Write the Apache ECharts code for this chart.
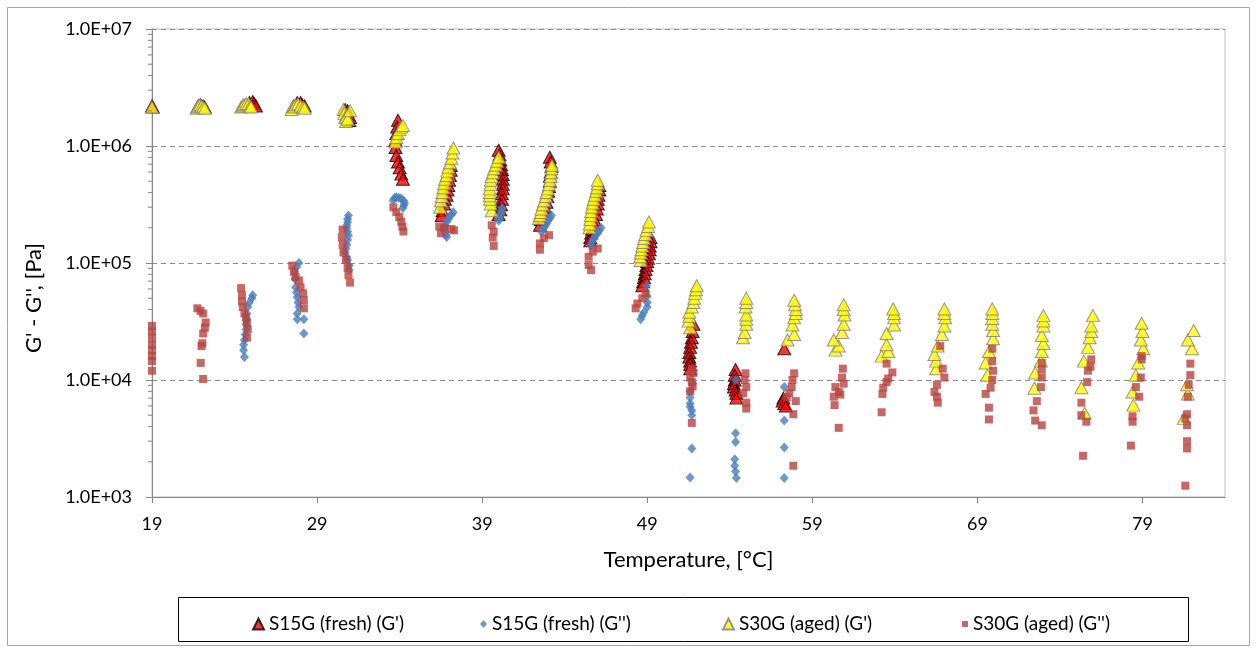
<!DOCTYPE html>
<html>
<head>
<meta charset="utf-8">
<script src="https://cdn.jsdelivr.net/npm/echarts@6/dist/echarts.min.js"></script>
<style>
html,body{margin:0;padding:0;background:#fff;}
#chart{width:1257px;height:649px;}
</style>
</head>
<body>
<div id="chart"></div>
<script>
// ---- Data (temperature [°C], modulus [Pa]) ----
const seriesNames = ["S15G (fresh) (G')", "S15G (fresh) (G'')", "S30G (aged) (G')", "S30G (aged) (G'')"];
const xTicks = [19, 29, 39, 49, 59, 69, 79];
const yTicks = [1e3, 1e4, 1e5, 1e6, 1e7];

const freshGp = [
  [19.0,2.2e6],[19.05,2.15e6],
  [21.8,2.2e6],[21.95,2.25e6],[22.1,2.2e6],[22.2,2.15e6],
  [24.6,2.2e6],[24.9,2.35e6],[25.1,2.4e6],[25.2,2.3e6],[25.3,2.2e6],
  [27.6,2.2e6],[27.8,2.35e6],[28.0,2.35e6],[28.1,2.25e6],[28.25,2.2e6],
  [30.7,2.05e6],[30.85,2.0e6],[30.9,1.85e6],[31.0,1.75e6],[30.95,1.65e6],
  [33.9,1.66e6],[33.85,1.45e6],[33.8,1.28e6],[33.75,1.12e6],[33.75,9.7e5],[33.8,8.3e5],[33.9,7.3e5],[34.0,6.5e5],[34.1,5.75e5],[34.2,5.2e5],
  [37.1,6.8e5],[37.1,6.2e5],[37.05,5.6e5],[37.0,5.1e5],[36.95,4.6e5],[36.9,4.2e5],[36.85,3.8e5],[36.75,3.5e5],[36.7,3.2e5],[36.6,2.8e5],[36.55,2.55e5],
  [40.0,9.2e5],[40.05,8.4e5],[40.1,7.6e5],[40.15,6.9e5],[40.2,6.3e5],[40.25,5.7e5],[40.25,5.2e5],[40.25,4.7e5],[40.25,4.3e5],[40.2,3.9e5],[40.2,3.5e5],[40.15,3.15e5],[40.1,2.85e5],[40.0,2.6e5],
  [43.1,8.0e5],[43.15,7.3e5],[43.2,6.7e5],[43.15,6.0e5],[43.1,5.5e5],[43.1,5.0e5],[43.05,4.5e5],[43.0,4.1e5],[42.95,3.7e5],[42.9,3.3e5],[42.8,3.0e5],[42.7,2.8e5],[42.6,2.6e5],[42.55,2.35e5],[42.5,2.1e5],
  [46.1,4.6e5],[46.1,4.2e5],[46.05,3.8e5],[46.0,3.5e5],[46.0,3.2e5],[45.95,2.9e5],[45.9,2.6e5],[45.8,2.35e5],[45.75,2.15e5],[45.65,1.95e5],[45.6,1.8e5],[45.55,1.65e5],[45.55,1.55e5],
  [49.2,1.65e5],[49.2,1.52e5],[49.15,1.4e5],[49.15,1.3e5],[49.1,1.2e5],[49.05,1.1e5],[49.0,1.03e5],[48.95,9.5e4],[48.9,8.8e4],[48.85,8.1e4],[48.8,7.5e4],[48.75,6.9e4],[48.7,6.4e4],
  [51.8,3.0e4],[51.75,2.6e4],[51.7,2.3e4],[51.65,2.1e4],[51.6,1.9e4],[51.55,1.72e4],[51.55,1.57e4],[51.6,1.45e4],[51.6,1.36e4],[51.6,1.25e4],
  [54.35,1.23e4],[54.3,1.1e4],[54.3,1.0e4],[54.25,9.3e3],[54.25,8.7e3],[54.35,8.2e3],[54.4,7.7e3],[54.4,7.0e3],
  [57.3,1.85e4],[57.25,7.0e3],[57.2,6.6e3],[57.3,6.3e3],[57.4,6.0e3]
];

const freshGpp = [
  [25.1,5.3e4],[25.05,5.0e4],[24.9,4.6e4],[24.8,4.2e4],[24.75,3.7e4],[24.75,3.3e4],[24.7,3.0e4],[24.7,2.7e4],[24.65,2.45e4],[24.6,2.2e4],[24.55,2.0e4],[24.55,1.8e4],[24.6,1.57e4],
  [27.9,1.0e5],[27.75,9.2e4],[27.65,8.4e4],[27.65,7.3e4],[27.7,6.2e4],[27.75,5.6e4],[27.8,5.1e4],[27.85,4.6e4],[27.9,4.2e4],[27.8,3.7e4],[27.8,3.3e4],[28.2,3.3e4],[28.2,2.5e4],
  [30.9,2.55e5],[30.85,2.38e5],[30.85,2.23e5],[30.8,2.1e5],[30.8,1.99e5],[30.85,1.85e5],[30.9,1.72e5],[30.85,1.57e5],[30.8,1.43e5],[30.75,1.33e5],[30.7,1.23e5],[30.8,1.13e5],[30.85,1.06e5],[30.95,9.5e4],[30.95,8.7e4],
  [33.6,3.44e5],[33.7,3.6e5],[33.8,3.65e5],[33.95,3.62e5],[34.1,3.55e5],[34.25,3.4e5],[34.3,3.24e5],[34.25,3.1e5],[34.2,2.95e5],
  [37.25,2.72e5],[37.15,2.6e5],[37.0,2.47e5],[36.95,2.36e5],[36.85,2.25e5],[36.75,2.1e5],[36.7,1.99e5],[36.75,1.85e5],[36.8,1.75e5],[36.85,1.67e5],
  [40.2,2.95e5],[40.15,2.75e5],[40.1,2.55e5],[40.05,2.42e5],[40.0,2.3e5],
  [43.2,2.55e5],[43.1,2.42e5],[43.0,2.3e5],[42.9,2.17e5],[42.8,2.05e5],[42.7,1.95e5],[42.6,1.85e5],
  [46.2,2.0e5],[46.1,1.9e5],[46.0,1.8e5],[45.85,1.7e5],[45.75,1.6e5],[45.65,1.5e5],[45.6,1.4e5],
  [48.95,6.4e4],[49.0,5.2e4],[49.0,4.6e4],[49.0,4.2e4],[48.8,3.8e4],[48.7,3.55e4],[48.6,3.3e4],
  [51.75,9.4e3],[51.6,8.0e3],[51.6,7.1e3],[51.6,6.3e3],[51.6,5.9e3],[51.7,5.5e3],[51.7,5.0e3],[51.7,2.6e3],[51.6,1.47e3],
  [54.35,1.0e4],[54.35,3.5e3],[54.35,2.95e3],[54.3,2.1e3],[54.3,1.85e3],[54.35,1.65e3],[54.4,1.45e3],
  [57.3,8.7e3],[57.3,4.5e3],[57.3,2.65e3],[57.3,1.45e3]
];

const agedGp = [
  [19.0,2.15e6],
  [21.7,2.1e6],[21.75,2.15e6],[21.8,2.2e6],[21.9,2.25e6],[22.0,2.2e6],[22.1,2.15e6],[22.2,2.1e6],
  [24.4,2.15e6],[24.5,2.2e6],[24.55,2.25e6],[24.7,2.3e6],[24.85,2.3e6],[24.95,2.2e6],[25.0,2.15e6],
  [27.45,2.05e6],[27.55,2.2e6],[27.6,2.15e6],[27.7,2.25e6],[27.85,2.3e6],[28.0,2.2e6],[28.15,2.15e6],[28.25,2.1e6],
  [30.6,2.05e6],[30.65,1.9e6],[30.7,1.75e6],[30.75,1.62e6],[30.8,1.8e6],[30.85,1.7e6],[31.0,2.0e6],
  [33.75,1.08e6],[33.8,1.18e6],[33.9,1.28e6],[34.0,1.38e6],[34.1,1.45e6],[34.2,1.5e6],
  [36.45,3.0e5],[36.5,3.4e5],[36.55,3.7e5],[36.6,4.0e5],[36.65,4.4e5],[36.7,4.8e5],[36.75,5.2e5],[36.84,5.6e5],[36.9,6.1e5],[36.95,6.6e5],[37.05,7.2e5],[37.14,7.85e5],[37.2,8.7e5],[37.26,9.6e5],
  [39.58,2.8e5],[39.52,3.2e5],[39.48,3.5e5],[39.46,3.75e5],[39.46,4.0e5],[39.46,4.3e5],[39.5,4.7e5],[39.52,5.1e5],[39.58,5.5e5],[39.64,5.9e5],[39.72,6.4e5],[39.83,6.85e5],[39.9,7.4e5],[40.0,8.0e5],
  [42.43,2.4e5],[42.5,2.55e5],[42.55,2.7e5],[42.6,2.9e5],[42.67,3.15e5],[42.75,3.4e5],[42.85,3.7e5],[42.9,4.0e5],[42.98,4.3e5],[43.05,4.7e5],[43.1,5.1e5],[43.15,5.5e5],[43.17,5.9e5],[43.2,6.4e5],[43.23,6.85e5],
  [45.5,2.0e5],[45.52,2.15e5],[45.55,2.35e5],[45.58,2.55e5],[45.6,2.75e5],[45.65,3.0e5],[45.7,3.25e5],[45.75,3.5e5],[45.83,3.8e5],[45.9,4.1e5],[45.95,4.4e5],[46.0,4.75e5],[46.0,5.1e5],
  [48.6,1.05e5],[48.58,1.13e5],[48.6,1.22e5],[48.65,1.3e5],[48.7,1.4e5],[48.75,1.5e5],[48.8,1.62e5],[48.88,1.75e5],[48.95,1.9e5],[49.05,2.05e5],[49.1,2.24e5],
  [51.6,2.8e4],[51.5,3.2e4],[51.55,3.5e4],[51.55,3.8e4],[51.7,4.2e4],[51.8,4.6e4],[51.85,5.0e4],[51.9,5.5e4],[51.95,5.9e4],[52.0,6.4e4],
  [54.8,2.3e4],[54.9,2.55e4],[55.0,3.0e4],[55.0,3.3e4],[55.0,3.6e4],[54.95,4.2e4],[55.0,4.6e4],[55.0,5.0e4],
  [57.5,2.2e4],[57.9,2.45e4],[57.8,2.95e4],[57.9,3.4e4],[58.0,3.7e4],[58.0,4.0e4],[57.95,4.4e4],[57.9,4.8e4],
  [60.4,1.8e4],[60.6,1.95e4],[60.3,2.2e4],[60.8,2.55e4],[60.9,3.0e4],[60.95,3.6e4],[60.9,4.0e4],[60.9,4.4e4],
  [63.2,1.6e4],[63.6,1.75e4],[63.5,2.0e4],[63.5,2.5e4],[63.95,2.95e4],[63.95,3.4e4],[63.95,3.7e4],[63.9,4.05e4],
  [66.5,1.25e4],[66.5,1.45e4],[66.4,1.65e4],[66.6,1.95e4],[66.85,2.45e4],[67.0,2.9e4],[67.05,3.4e4],[67.0,3.7e4],[67.0,4.05e4],
  [69.6,1.1e4],[69.5,1.4e4],[69.7,1.75e4],[69.95,2.25e4],[69.95,2.65e4],[69.9,3.0e4],[69.9,3.35e4],[69.9,3.7e4],[69.9,4.05e4],
  [72.45,8.5e3],[72.5,1.15e4],[72.85,1.45e4],[72.9,1.75e4],[73.0,2.05e4],[72.9,2.4e4],[73.0,2.9e4],[73.0,3.2e4],[73.0,3.55e4],
  [75.5,5.2e3],[75.3,8.6e3],[75.45,1.45e4],[75.7,1.9e4],[75.8,2.3e4],[75.9,2.6e4],[75.9,2.9e4],[76.0,3.55e4],
  [78.45,6.1e3],[78.4,7.9e3],[78.6,1.1e4],[78.75,1.4e4],[79.05,1.85e4],[78.9,2.2e4],[79.0,2.6e4],[78.95,3.05e4],
  [81.5,4.7e3],[81.75,7.6e3],[81.7,9.1e3],[82.0,1.85e4],[81.75,2.2e4],[82.1,2.65e4]
];

const agedGpp = [
  [19.0,2.9e4],[19.0,2.6e4],[19.0,2.3e4],[19.0,2.0e4],[19.0,1.8e4],[19.0,1.6e4],[19.0,1.45e4],[19.0,1.2e4],
  [21.75,4.1e4],[21.94,3.9e4],[22.1,3.7e4],[22.25,3.1e4],[22.2,2.8e4],[22.1,2.5e4],[22.05,2.06e4],[22.0,1.95e4],[21.95,1.4e4],[22.1,1.02e4],
  [24.4,6.1e4],[24.45,5.3e4],[24.45,4.7e4],[24.5,4.2e4],[24.6,3.7e4],[24.7,3.4e4],[24.75,3.06e4],[24.8,2.7e4],[24.75,2.3e4],
  [27.5,9.5e4],[27.6,8.4e4],[27.7,7.6e4],[27.9,7.1e4],[28.0,6.2e4],[28.15,5.5e4],[28.2,4.8e4],[28.2,4.1e4],
  [30.55,1.93e5],[30.5,1.66e5],[30.55,1.43e5],[30.6,1.23e5],[30.75,1.06e5],[30.85,9.1e4],[30.9,7.9e4],[31.0,6.8e4],
  [33.62,2.99e5],[33.8,2.72e5],[33.98,2.47e5],[34.1,2.25e5],[34.17,2.04e5],[34.23,1.86e5],
  [36.4,2.05e5],[36.7,2.0e5],[37.14,1.95e5],[37.3,1.9e5],[36.5,1.8e5],
  [39.58,2.1e5],[39.7,1.85e5],[39.64,1.65e5],[39.7,1.4e5],
  [43.05,1.73e5],[42.74,1.63e5],[42.5,1.47e5],[42.5,1.3e5],
  [46.0,1.33e5],[45.7,1.25e5],[45.45,1.13e5],[45.45,9.6e4],[45.6,8.7e4],
  [48.9,5.5e4],[48.7,5.0e4],[48.4,4.5e4],[48.3,4.1e4],
  [51.7,1.25e4],[51.8,1.15e4],[51.6,1.05e4],[51.7,9.6e3],[51.75,8.8e3],[51.6,8.0e3],[51.7,4.3e3],
  [54.95,1.14e4],[54.9,1.0e4],[55.0,8.7e3],[54.8,7.7e3],[55.0,6.4e3],[55.0,5.7e3],
  [57.9,1.14e4],[57.8,1.0e4],[57.75,8.7e3],[57.6,7.7e3],[57.45,7.1e3],[58.0,6.6e3],[57.85,5.1e3],[57.85,1.85e3],
  [60.85,1.25e4],[60.8,1.05e4],[60.9,9.3e3],[60.4,8.7e3],[60.6,7.9e3],[60.3,7.2e3],[60.7,7.5e3],[60.35,6.1e3],[60.6,3.9e3],
  [63.5,1.38e4],[63.85,1.16e4],[63.6,1.03e4],[63.5,9.6e3],[63.3,8.6e3],[63.25,7.6e3],[63.2,5.3e3],
  [66.75,1.95e4],[66.9,1.25e4],[67.0,1.05e4],[66.55,9.1e3],[66.4,7.9e3],[66.55,7.2e3],[66.6,6.4e3],
  [69.9,1.85e4],[69.9,1.45e4],[69.95,1.2e4],[69.9,1.0e4],[69.8,8.6e3],[69.5,7.6e3],[69.7,5.8e3],[69.7,4.6e3],
  [72.9,1.4e4],[72.9,1.23e4],[72.9,1.05e4],[72.85,8.7e3],[72.6,6.6e3],[72.4,5.5e3],[72.5,4.5e3],[72.9,4.1e3],
  [75.9,1.5e4],[75.85,1.3e4],[75.7,1.2e4],[75.65,9.6e3],[75.3,6.4e3],[75.3,5.0e3],[75.6,4.4e3],[75.4,2.25e3],
  [78.95,1.6e4],[78.95,1.5e4],[78.9,1.05e4],[78.6,8.7e3],[78.8,7.2e3],[78.4,4.9e3],[78.4,4.4e3],[78.3,2.75e3],
  [81.9,1.38e4],[81.9,1.1e4],[81.8,9.1e3],[81.75,7.2e3],[81.7,5.1e3],[81.6,4.7e3],[81.7,4.1e3],[81.7,3.0e3],[81.7,2.6e3],[81.6,1.25e3]
];

// ---- Chart ----
const FONT = 'Lato';
const chart = echarts.init(document.getElementById('chart'), null, {renderer: 'canvas'});

// minor tick positions of the log axis (2..9 of each decade)
const minorTickVals = [];
for (let i = 0; i < yTicks.length - 1; i++) {
  for (let k = 2; k <= 9; k++) minorTickVals.push([19, yTicks[i] * k]);
}

const legendBase = {
  top: 608, orient: 'horizontal', itemGap: 0,
  textStyle: {fontFamily: FONT, fontSize: 19, color: '#000', lineHeight: 22},
  selectedMode: false
};

chart.setOption({
  animation: false,
  backgroundColor: '#fff',
  grid: {left: 152, right: 32, top: 29, bottom: 152, show: true, borderColor: '#bcbcbc', borderWidth: 1, backgroundColor: 'transparent'},
  xAxis: {
    type: 'value', min: 19, max: 84, interval: 10,
    name: 'Temperature, [°C]', nameLocation: 'middle', nameGap: 52,
    nameTextStyle: {fontFamily: FONT, fontSize: 22, color: '#000'},
    axisLine: {show: true, onZero: false, lineStyle: {color: '#868686', width: 1}},
    axisTick: {show: true, length: 6, customValues: xTicks, lineStyle: {color: '#868686'}},
    axisLabel: {customValues: xTicks, fontFamily: FONT, fontSize: 18, color: '#000', margin: 18},
    splitLine: {show: false}
  },
  yAxis: {
    type: 'log', logBase: 10, min: 1e3, max: 1e7,
    axisLine: {show: true, lineStyle: {color: '#868686', width: 1}},
    axisTick: {show: true, length: 6, lineStyle: {color: '#868686'}},
    minorTick: {show: false},
    axisLabel: {
      fontFamily: FONT, fontSize: 18, color: '#000', margin: 20,
      formatter: v => '1.0E+' + String(Math.round(Math.log10(v))).padStart(2, '0')
    },
    splitLine: {show: true, lineStyle: {color: '#8c8c8c', type: [5, 4], width: 1}}
  },
  legend: [
    Object.assign({}, legendBase, {left: 247, data: [seriesNames[0]], itemWidth: 11, itemHeight: 11}),
    Object.assign({}, legendBase, {left: 475, data: [seriesNames[1]], itemWidth: 7, itemHeight: 8}),
    Object.assign({}, legendBase, {left: 717, data: [seriesNames[2]], itemWidth: 11, itemHeight: 11}),
    Object.assign({}, legendBase, {left: 957, data: [seriesNames[3]], itemWidth: 6, itemHeight: 6})
  ],
  graphic: [
    {type: 'rect', silent: true, shape: {x: 7.5, y: 7.5, width: 1242, height: 638}, style: {fill: 'none', stroke: '#a6a6a6', lineWidth: 1}},
    {type: 'rect', silent: true, shape: {x: 178.5, y: 597.5, width: 1010, height: 44}, style: {fill: 'none', stroke: '#000', lineWidth: 1}},
    {type: 'text', silent: true, x: 34, y: 298, rotation: Math.PI / 2,
      style: {text: "G' - G'', [Pa]", fontFamily: FONT, fontSize: 22, fill: '#000', align: 'center', verticalAlign: 'middle'}}
  ],
  series: [
    {name: seriesNames[0], type: 'scatter', data: freshGp, symbol: 'triangle', symbolSize: [13, 12], z: 2,
      itemStyle: {color: '#ff0000', borderColor: '#000', borderWidth: 1}, emphasis: {disabled: true}},
    {name: seriesNames[1], type: 'scatter', data: freshGpp, symbol: 'diamond', symbolSize: [9, 10], z: 3,
      itemStyle: {color: '#4a7ebb'}, emphasis: {disabled: true}},
    {name: seriesNames[2], type: 'scatter', data: agedGp, symbol: 'triangle', symbolSize: [13, 12], z: 4,
      itemStyle: {color: '#ffff00', borderColor: '#857888', borderWidth: 1}, emphasis: {disabled: true}},
    {name: seriesNames[3], type: 'scatter', data: agedGpp, symbol: 'rect', symbolSize: [8, 8], z: 5,
      itemStyle: {color: '#b8443f'}, emphasis: {disabled: true}},
    {name: 'minorTicks', type: 'custom', data: minorTickVals, clip: false, silent: true, z: 6,
      renderItem: (params, api) => {
        const p = api.coord([api.value(0), api.value(1)]);
        return {type: 'line', shape: {x1: p[0] - 4, y1: p[1], x2: p[0], y2: p[1]}, style: {stroke: '#868686', lineWidth: 1}};
      }}
  ]
});
</script>
</body>
</html>
